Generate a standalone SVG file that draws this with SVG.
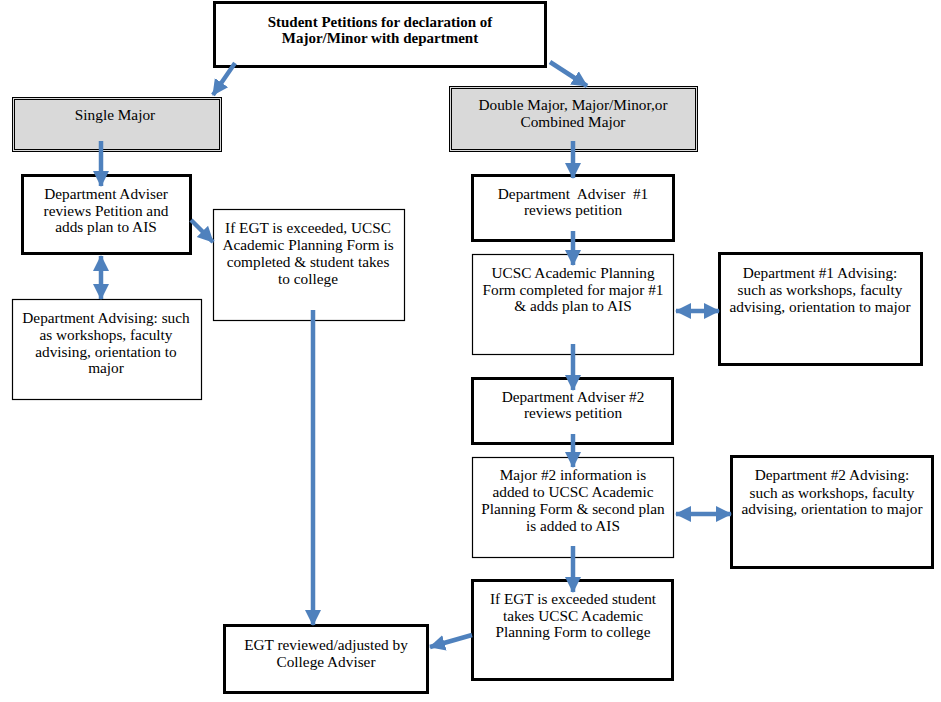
<svg xmlns="http://www.w3.org/2000/svg" width="941" height="702" viewBox="0 0 941 702">
<style>
.box{fill:#fff;stroke:#000}
.thick{stroke-width:3}
.thin{stroke-width:1.2}
.grey{fill:#d9d9d9;stroke:#000;stroke-width:1}
text{font-family:"Liberation Serif","Times New Roman",serif;font-size:15.3px;fill:#000;text-anchor:middle}
.b{font-weight:bold;font-size:15px}
.c{stroke:#4f81bd;stroke-width:4.5;fill:none}
</style>
<defs>
<marker id="ah" markerUnits="userSpaceOnUse" markerWidth="18" markerHeight="18" refX="15" refY="9" orient="auto-start-reverse" viewBox="0 0 18 18">
<path d="M0,1 L16,9 L0,17 Z" fill="#4f81bd"/>
</marker>
</defs>
<g id="n-top">
<rect class="box thick" x="214.5" y="2.5" width="331" height="64"/>
<text class="b" x="380" y="27">Student Petitions for declaration of</text>
<text class="b" x="380" y="43">Major/Minor with department</text>
</g>
<g id="n-single">
<rect class="grey" x="12.5" y="97.5" width="209" height="54"/>
<rect fill="none" stroke="#000" stroke-width="1" x="14.5" y="99.5" width="205" height="50"/>
<text x="115" y="120">Single Major</text>
</g>
<g id="n-adv">
<rect class="box thick" x="22.5" y="175.5" width="168" height="78"/>
<text x="106" y="199">Department Adviser</text>
<text x="106" y="216">reviews Petition and</text>
<text x="106" y="232">adds plan to AIS</text>
</g>
<g id="n-egt1">
<rect class="box thin" x="213.5" y="209.5" width="191" height="111"/>
<text x="308" y="233">If EGT is exceeded, UCSC</text>
<text x="308" y="250">Academic Planning Form is</text>
<text x="308" y="267">completed &amp; student takes</text>
<text x="308" y="284">to college</text>
</g>
<g id="n-advising">
<rect class="box thin" x="12.5" y="299.5" width="189" height="100"/>
<text x="106" y="323">Department Advising: such</text>
<text x="106" y="340">as workshops, faculty</text>
<text x="106" y="357">advising, orientation to</text>
<text x="106" y="373">major</text>
</g>
<g id="n-double">
<rect class="grey" x="449.5" y="86.5" width="248" height="65"/>
<rect fill="none" stroke="#000" stroke-width="1" x="451.5" y="88.5" width="244" height="61"/>
<text x="573" y="110">Double Major, Major/Minor,or</text>
<text x="573" y="127">Combined Major</text>
</g>
<g id="n-adv1">
<rect class="box thick" x="472.5" y="175.5" width="201" height="65"/>
<text x="573" y="199" style="white-space:pre">Department  Adviser  #1</text>
<text x="573" y="215">reviews petition</text>
</g>
<g id="n-ucsc">
<rect class="box thin" x="472.5" y="254.5" width="201" height="100"/>
<text x="573" y="278">UCSC Academic Planning</text>
<text x="573" y="295">Form completed for major #1</text>
<text x="573" y="311">&amp; adds plan to AIS</text>
</g>
<g id="n-dept1">
<rect class="box thick" x="719.5" y="253.5" width="202" height="111"/>
<text x="820" y="278">Department #1 Advising:</text>
<text x="820" y="295">such as workshops, faculty</text>
<text x="820" y="312">advising, orientation to major</text>
</g>
<g id="n-adv2">
<rect class="box thick" x="472.5" y="378.5" width="200" height="65"/>
<text x="573" y="402">Department Adviser #2</text>
<text x="573" y="418">reviews petition</text>
</g>
<g id="n-major2">
<rect class="box thin" x="472.5" y="457.5" width="201" height="100"/>
<text x="573" y="480">Major #2 information is</text>
<text x="573" y="497">added to UCSC Academic</text>
<text x="573" y="514">Planning Form &amp; second plan</text>
<text x="573" y="531">is added to AIS</text>
</g>
<g id="n-dept2">
<rect class="box thick" x="731.5" y="456.5" width="201" height="111"/>
<text x="832" y="480">Department #2 Advising:</text>
<text x="832" y="498">such as workshops, faculty</text>
<text x="832" y="514">advising, orientation to major</text>
</g>
<g id="n-egt2">
<rect class="box thick" x="472.5" y="580.5" width="200" height="99"/>
<text x="573" y="604">If EGT is exceeded student</text>
<text x="573" y="621">takes UCSC Academic</text>
<text x="573" y="637">Planning Form to college</text>
</g>
<g id="n-college">
<rect class="box thick" x="224.5" y="625.5" width="203" height="67"/>
<text x="326" y="650">EGT reviewed/adjusted by</text>
<text x="326" y="667">College Adviser</text>
</g>
<g id="connectors">
<line class="c" x1="235" y1="63" x2="213" y2="95" marker-end="url(#ah)"/>
<line class="c" x1="550" y1="62" x2="587" y2="86" marker-end="url(#ah)"/>
<line class="c" x1="101" y1="141" x2="101" y2="186" marker-end="url(#ah)"/>
<line class="c" x1="191" y1="220" x2="213" y2="242" marker-end="url(#ah)"/>
<line class="c" x1="101" y1="256" x2="101" y2="299" marker-start="url(#ah)" marker-end="url(#ah)"/>
<line class="c" x1="313" y1="310" x2="313" y2="625" marker-end="url(#ah)"/>
<line class="c" x1="573" y1="141" x2="573" y2="178" marker-end="url(#ah)"/>
<line class="c" x1="573" y1="231" x2="573" y2="265" marker-end="url(#ah)"/>
<line class="c" x1="676" y1="311" x2="719" y2="311" marker-start="url(#ah)" marker-end="url(#ah)"/>
<line class="c" x1="573" y1="344" x2="573" y2="390" marker-end="url(#ah)"/>
<line class="c" x1="573" y1="434" x2="573" y2="467" marker-end="url(#ah)"/>
<line class="c" x1="676" y1="514" x2="731" y2="514" marker-start="url(#ah)" marker-end="url(#ah)"/>
<line class="c" x1="573" y1="546" x2="573" y2="592" marker-end="url(#ah)"/>
<line class="c" x1="472" y1="635" x2="430" y2="647" marker-end="url(#ah)"/>
</g>
</svg>
